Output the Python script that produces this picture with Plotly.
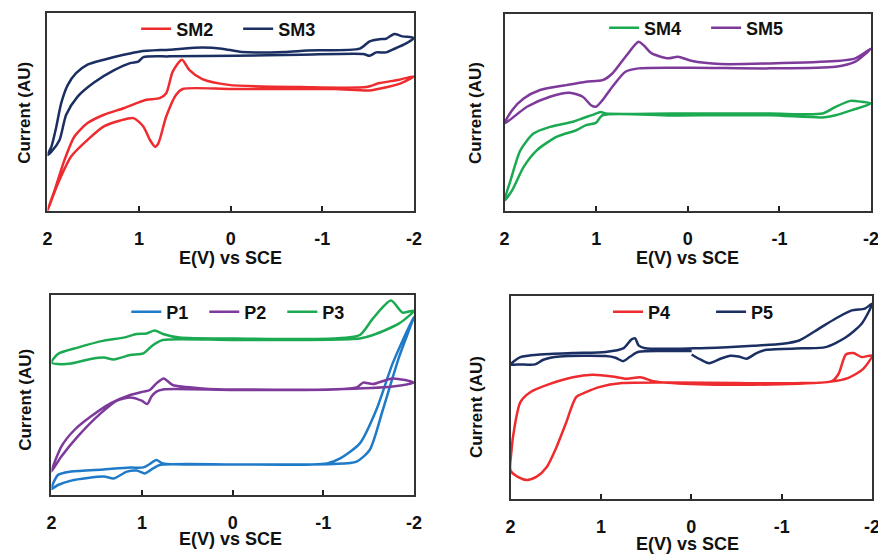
import plotly.graph_objects as go

# ---------------- data (E in V vs SCE, current in arbitrary units) ----------------
TICK_VALUES = [2, 1, 0, -1, -2]
TICK_LABELS = ["2", "1", "0", "-1", "-2"]
X_TITLE = "E(V) vs SCE"
Y_TITLE = "Current (AU)"

SM3_E = [2.0, 1.957, 1.903, 1.85, 1.778, 1.688, 1.563, 1.384, 1.169, 0.99, 0.668, 0.31, 0.095, -0.12, -0.585,
         -0.836, -1.409, -1.516, -1.624, -1.696, -1.785, -1.875, -2.0, -1.91, -1.767, -1.696, -1.588, -1.516,
         -1.445, -0.765, -0.048, 0.668, 0.954, 1.008, 1.098, 1.277, 1.492, 1.671, 1.796, 1.868, 1.957, 2.0]
SM3_I = [28.3, 32.5, 42.7, 54.5, 63.7, 69.6, 73.9, 76.4, 78.9, 80.6, 81.5, 82.6, 82.0, 80.3, 80.3,
         81.1, 82.0, 85.7, 86.8, 87.0, 89.4, 88.2, 87.4, 84.5, 81.5, 80.1, 80.1, 78.4,
         79.3, 78.9, 78.4, 78.1, 77.7, 75.5, 74.7, 71.0, 64.9, 57.8, 48.6, 35.9, 30.0, 28.3]

SM2_E = [2.0, 1.921, 1.814, 1.706, 1.563, 1.384, 1.169, 1.026, 0.918, 0.775, 0.704, 0.632, 0.532, 0.453, 0.31,
         0.023, -0.765, -1.48, -1.624, -1.839, -2.0, -1.839, -1.66, -1.516, -1.123, -0.012, 0.525, 0.596,
         0.704, 0.79, 0.826, 0.882, 0.954, 1.062, 1.205, 1.384, 1.563, 1.742, 1.885, 2.0]
SM2_I = [0.2, 10.6, 25.8, 37.6, 44.4, 48.6, 51.9, 54.5, 56.2, 57.0, 59.5, 70.5, 76.4, 71.3, 66.6,
         63.7, 62.6, 62.6, 64.6, 66.3, 68.0, 64.2, 62.1, 60.9, 61.6, 61.6, 61.6, 58.7,
         47.7, 34.2, 32.5, 35.9, 42.7, 46.9, 45.7, 42.7, 35.9, 27.5, 14.0, 0.2]

SM4_E = [2.0, 1.935, 1.828, 1.685, 1.505, 1.254, 1.147, 1.039, 0.95, 0.896, 0.179, -0.896, -1.47, -1.613,
         -1.774, -1.9, -2.0, -1.792, -1.613, -1.47, -0.896, 0.179, 0.932, 1.004, 1.111, 1.219, 1.434,
         1.649, 1.792, 1.918, 2.0]
SM4_I = [5.4, 15.6, 30.8, 39.3, 42.7, 45.3, 47.1, 48.8, 50.3, 49.5, 49.5, 49.5, 49.5, 52.9,
         55.9, 55.4, 54.6, 51.2, 48.6, 47.5, 48.6, 48.5, 48.6, 44.7, 43.6, 41.0, 37.6,
         30.8, 22.4, 10.5, 5.4]

SM5_E = [2.0, 1.918, 1.792, 1.613, 1.326, 1.111, 0.932, 0.824, 0.681, 0.538, 0.484, 0.394, 0.215, 0.108,
         -0.036, -0.358, -0.896, -1.613, -1.828, -2.0, -1.828, -1.613, -0.896, -0.036, 0.538, 0.681, 0.824,
         0.932, 1.004, 1.057, 1.147, 1.29, 1.505, 1.756, 2.0]
SM5_I = [44.4, 51.2, 57.1, 61.4, 63.9, 65.6, 66.4, 69.8, 78.3, 85.9, 84.2, 80.0, 77.5, 78.3,
         76.3, 74.6, 74.9, 76.1, 77.5, 82.5, 75.8, 73.2, 72.4, 72.7, 72.4, 70.7, 63.1,
         56.3, 52.9, 53.7, 58.0, 60.0, 58.0, 52.9, 44.4]

P1_E = [2.0, 1.928, 1.783, 1.421, 1.131, 0.986, 0.914, 0.842, 0.77, -0.027, -1.041, -1.186, -1.403, -1.584,
        -1.765, -2.0, -1.837, -1.656, -1.511, -1.367, -1.113, -0.027, 0.805, 0.878, 0.968, 1.059, 1.167,
        1.312, 1.421, 1.783, 1.928, 2.0]
P1_I = [3.0, 10.0, 11.7, 12.8, 13.7, 13.8, 15.5, 17.5, 15.8, 15.3, 15.8, 18.3, 25.8, 42.5,
        65.8, 89.2, 69.2, 42.5, 22.5, 16.7, 15.5, 15.3, 15.0, 13.3, 10.8, 12.2, 11.7,
        8.3, 9.2, 7.2, 5.0, 3.0]

P2_E = [2.0, 1.891, 1.747, 1.566, 1.348, 1.131, 0.986, 0.914, 0.842, 0.762, 0.661, 0.335, -0.027, -1.366,
        -1.439, -1.548, -1.765, -2.0, -1.765, -1.113, -0.027, 0.77, 0.842, 0.896, 0.943, 1.005, 1.131,
        1.276, 1.457, 1.711, 1.891, 2.0]
P2_I = [11.7, 24.2, 32.5, 39.2, 45.8, 50.0, 51.7, 52.5, 55.8, 58.3, 55.0, 53.3, 52.8, 53.8,
        56.2, 55.5, 58.3, 56.2, 54.2, 52.8, 52.5, 52.8, 51.7, 49.2, 45.5, 47.2, 48.8,
        47.2, 40.8, 29.2, 19.2, 11.7]

P3_E = [2.0, 1.928, 1.71, 1.421, 1.204, 1.059, 0.95, 0.86, 0.77, 0.588, -0.027, -1.113, -1.403, -1.548,
        -1.747, -1.873, -2.0, -1.837, -1.548, -1.403, -0.027, 0.77, 0.878, 0.986, 1.131, 1.312, 1.421,
        1.566, 1.783, 1.928, 2.0]
P3_I = [66.2, 70.5, 73.7, 77.2, 78.7, 80.5, 80.8, 82.2, 80.5, 78.7, 78.2, 78.2, 80.0, 88.3,
        97.2, 91.2, 92.2, 85.8, 80.0, 78.3, 77.5, 77.5, 75.0, 70.8, 70.0, 67.8, 68.7,
        68.0, 65.8, 65.5, 66.2]

P4_E = [2.0, 1.909, 1.819, 1.71, 1.601, 1.492, 1.383, 1.274, 1.165, 1.02, 0.766, 0.221, -0.505, -1.23,
        -1.557, -1.63, -1.71, -1.793, -1.884, -2.0, -1.902, -1.739, -1.521, -0.868, 0.004, 0.403, 0.566,
        0.711, 0.875, 1.093, 1.31, 1.564, 1.782, 1.891, 1.956, 1.993, 2.0]
P4_I = [14.0, 10.7, 9.4, 11.0, 15.6, 25.5, 37.8, 50.2, 52.6, 55.1, 57.1, 57.4, 57.1, 57.1,
        58.1, 61.7, 71.2, 71.9, 69.9, 70.7, 64.1, 59.7, 57.7, 56.4, 56.7, 57.9, 60.0,
        59.2, 60.4, 61.2, 60.0, 56.7, 52.6, 47.7, 35.4, 22.2, 14.0]

P5_E = [-0.004, -0.105, -0.196, -0.323, -0.432, -0.523, -0.613, -0.722, -0.831, -1.23, -1.485, -1.702,
        -1.884, -2.0, -1.92, -1.775, -1.593, -1.412, -1.194, -1.013, -0.686, -0.396, -0.033, 0.512, 0.584,
        0.621, 0.664, 0.748, 0.947, 1.31, 1.673, 1.891, 2.0, 1.891, 1.728, 1.637, 1.456, 0.947, 0.838,
        0.755, 0.675, 0.584, 0.221, -0.004]
P5_I = [71.2, 68.6, 66.9, 69.1, 70.6, 70.2, 69.1, 71.9, 73.5, 74.2, 74.8, 79.4,
        86.3, 96.2, 93.8, 92.9, 88.8, 83.9, 78.1, 76.5, 75.5, 74.8, 74.2, 74.3, 75.7,
        79.1, 78.5, 74.3, 72.4, 71.9, 71.2, 69.9, 66.3, 66.3, 66.3, 68.6, 70.2, 70.4, 69.6,
        67.9, 70.2, 72.5, 72.9, 72.9]

# ---------------- styling ----------------
RED = "#EE2B2E"
NAVY = "#1B2F63"
GREEN = "#1BAA52"
PURPLE = "#7D3A9B"
BLUE = "#1F7AC8"
FONT = "Liberation Sans, Arial, sans-serif"
OFF = 8                      # page body margin of the browser
W, H = 886 - OFF, 554 - OFF

# panel geometry in window pixels
panels = [
    dict(ax="", x0=43, x1=415, yt=13, yb=211, lg="legend", lx=141, ly=29, ew=57,
         xt=(229, 258), yti=(20, 113)),
    dict(ax="2", x0=507, x1=879, yt=14, yb=211, lg="legend2", lx=616, ly=28, ew=57,
         xt=(693, 258), yti=(478, 113)),
    dict(ax="3", x0=47, x1=415, yt=295, yb=495, lg="legend3", lx=131, ly=312, ew=33,
         xt=(229, 539), yti=(20, 400)),
    dict(ax="4", x0=513, x1=880, yt=296, yb=499, lg="legend4", lx=620, ly=312, ew=58,
         xt=(693, 544), yti=(478, 407)),
]

series = [
    ("SM2", SM2_E, SM2_I, RED, 0),
    ("SM3", SM3_E, SM3_I, NAVY, 0),
    ("SM4", SM4_E, SM4_I, GREEN, 1),
    ("SM5", SM5_E, SM5_I, PURPLE, 1),
    ("P1", P1_E, P1_I, BLUE, 2),
    ("P2", P2_E, P2_I, PURPLE, 2),
    ("P3", P3_E, P3_I, GREEN, 2),
    ("P4", P4_E, P4_I, RED, 3),
    ("P5", P5_E, P5_I, NAVY, 3),
]


def px(v):
    return (v - OFF) / W


def py(v):
    return 1 - (v - OFF) / H


fig = go.Figure()
for name, e, i, col, p in series:
    ax = panels[p]["ax"]
    fig.add_trace(go.Scatter(
        x=e, y=i, name=name, mode="lines",
        line=dict(color=col, width=2.5, shape="spline", smoothing=0.7),
        xaxis="x" + ax, yaxis="y" + ax, legend=panels[p]["lg"],
    ))

TXT = dict(family=FONT, color="#111111", weight="bold")
layout = dict(
    width=W, height=H, margin=dict(l=0, r=0, t=0, b=0),
    paper_bgcolor="white", plot_bgcolor="white",
    font=dict(TXT, size=18),
    annotations=[],
)
for p in panels:
    ax = p["ax"]
    layout["xaxis" + ax] = dict(
        domain=[px(p["x0"]), px(p["x1"])], anchor="y" + ax, range=[2, -2], autorange=False,
        tickvals=TICK_VALUES, ticktext=TICK_LABELS, ticks="inside", ticklen=5, tickwidth=1.5,
        tickcolor="#222222", showline=True, mirror=True, linecolor="#333333", linewidth=1.5,
        showgrid=False, zeroline=False, ticklabelstandoff=11,
        tickfont=dict(TXT, size=18),
    )
    layout["yaxis" + ax] = dict(
        domain=[py(p["yb"]), py(p["yt"])], anchor="x" + ax, range=[0, 100], autorange=False,
        showticklabels=False, ticks="", showline=True, mirror=True, linecolor="#333333",
        linewidth=1.5, showgrid=False, zeroline=False,
    )
    layout[p["lg"]] = dict(
        orientation="h", x=px(p["lx"] - 8), y=py(p["ly"]), xanchor="left", yanchor="middle",
        bgcolor="rgba(0,0,0,0)", itemwidth=30, entrywidth=p["ew"], entrywidthmode="pixels",
        font=dict(TXT, size=18), itemclick=False,
    )
    layout["annotations"].append(dict(
        text=X_TITLE, xref="paper", yref="paper", x=px(p["xt"][0]), y=py(p["xt"][1]),
        xanchor="center", yanchor="middle", showarrow=False, font=dict(TXT, size=18),
    ))
    layout["annotations"].append(dict(
        text=Y_TITLE, xref="paper", yref="paper", x=px(p["yti"][0]), y=py(p["yti"][1]),
        xanchor="center", yanchor="middle", textangle=-90, showarrow=False,
        font=dict(TXT, size=17),
    ))

fig.update_layout(**layout)
fig.write_html("out.html")
